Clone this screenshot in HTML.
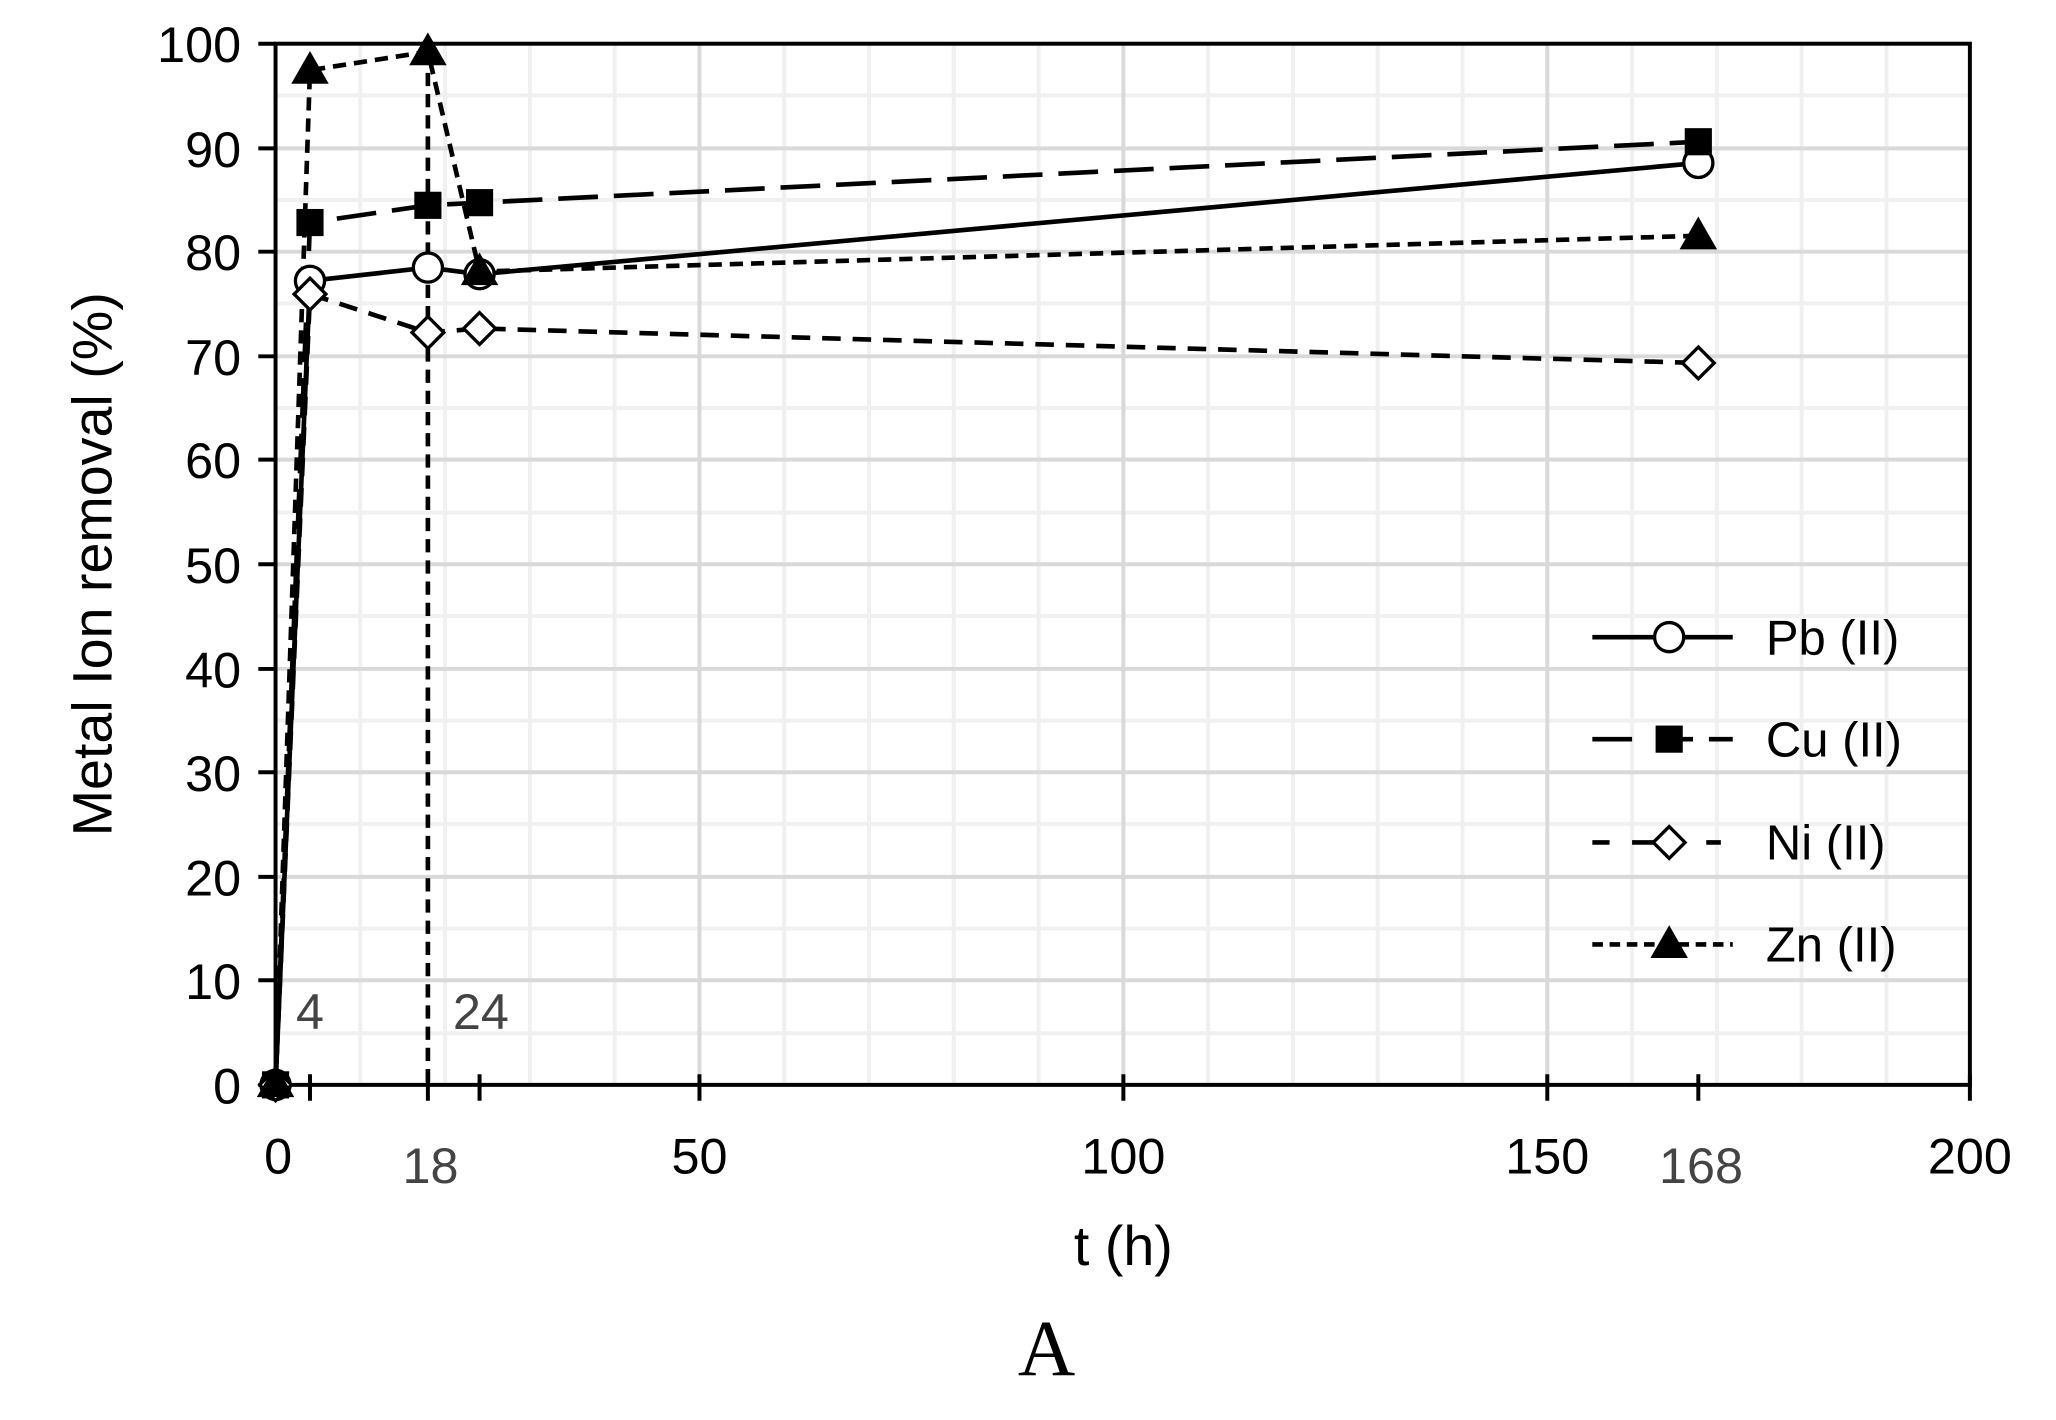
<!DOCTYPE html>
<html><head><meta charset="utf-8"><style>html,body{margin:0;padding:0;background:#fff}svg{display:block}</style></head><body>
<svg width="2056" height="1420" viewBox="0 0 1552 1072" preserveAspectRatio="none" xmlns="http://www.w3.org/2000/svg" font-family="Liberation Sans, sans-serif">
<rect width="1552" height="1072" fill="#fff"/>
<g stroke-width="3">
<g stroke="#f0f0f0">
<line x1="272" y1="33" x2="272" y2="819"/><line x1="336" y1="33" x2="336" y2="819"/><line x1="400" y1="33" x2="400" y2="819"/><line x1="464" y1="33" x2="464" y2="819"/>
<line x1="592" y1="33" x2="592" y2="819"/><line x1="656" y1="33" x2="656" y2="819"/><line x1="720" y1="33" x2="720" y2="819"/><line x1="784" y1="33" x2="784" y2="819"/>
<line x1="912" y1="33" x2="912" y2="819"/><line x1="976" y1="33" x2="976" y2="819"/><line x1="1040" y1="33" x2="1040" y2="819"/><line x1="1104" y1="33" x2="1104" y2="819"/>
<line x1="1232" y1="33" x2="1232" y2="819"/><line x1="1296" y1="33" x2="1296" y2="819"/><line x1="1360" y1="33" x2="1360" y2="819"/><line x1="1424" y1="33" x2="1424" y2="819"/>
<line x1="208" y1="72" x2="1487" y2="72"/><line x1="208" y1="151" x2="1487" y2="151"/><line x1="208" y1="229" x2="1487" y2="229"/><line x1="208" y1="308" x2="1487" y2="308"/>
<line x1="208" y1="387" x2="1487" y2="387"/><line x1="208" y1="465" x2="1487" y2="465"/><line x1="208" y1="544" x2="1487" y2="544"/><line x1="208" y1="622" x2="1487" y2="622"/>
<line x1="208" y1="701" x2="1487" y2="701"/><line x1="208" y1="780" x2="1487" y2="780"/>
</g>
<g stroke="#d9d9d9">
<line x1="528" y1="33" x2="528" y2="819"/><line x1="848" y1="33" x2="848" y2="819"/><line x1="1168" y1="33" x2="1168" y2="819"/>
<line x1="208" y1="112" x2="1487" y2="112"/><line x1="208" y1="190" x2="1487" y2="190"/><line x1="208" y1="269" x2="1487" y2="269"/><line x1="208" y1="347" x2="1487" y2="347"/>
<line x1="208" y1="426" x2="1487" y2="426"/><line x1="208" y1="505" x2="1487" y2="505"/><line x1="208" y1="583" x2="1487" y2="583"/><line x1="208" y1="662" x2="1487" y2="662"/><line x1="208" y1="740" x2="1487" y2="740"/>
</g>
</g>
<g stroke="#000" stroke-width="3" fill="none">
<rect x="208" y="33" width="1279" height="786"/>
<path d="M195 33H208M195 112H208M195 190H208M195 269H208M195 347H208M195 426H208M195 505H208M195 583H208M195 662H208M195 740H208M195 819H208"/>
<path d="M208 811V831M528 811V831M848 811V831M1168 811V831M1487 811V831M234 811V831M323 811V831M362 811V831M1282 811V831"/>
</g>
<g font-size="38" text-anchor="end" fill="#000">
<text x="182" y="47">100</text><text x="182" y="126">90</text><text x="182" y="204">80</text><text x="182" y="283">70</text><text x="182" y="361">60</text>
<text x="182" y="440">50</text><text x="182" y="519">40</text><text x="182" y="597">30</text><text x="182" y="676">20</text><text x="182" y="754">10</text><text x="182" y="833">0</text>
</g>
<g font-size="38" text-anchor="middle" fill="#000">
<text x="210" y="886">0</text><text x="528" y="886">50</text><text x="848" y="886">100</text><text x="1168" y="886">150</text><text x="1487" y="886">200</text>
</g>
<g font-size="38" text-anchor="middle" fill="#444">
<text x="325" y="893">18</text><text x="1284" y="893">168</text><text x="234" y="777">4</text><text x="363" y="777">24</text>
</g>
<text x="848" y="955" font-size="42" text-anchor="middle">t (h)</text>
<text transform="translate(84,426) rotate(-90)" font-size="42" text-anchor="middle">Metal Ion removal (%)</text>
<text x="790" y="1038" font-size="60" text-anchor="middle" font-family="Liberation Serif, serif">A</text>
<g fill="none" stroke="#000" stroke-width="3.5">
<polyline points="208,819 234,212 323,202 362,207 1282,123"/>
<polyline stroke-dasharray="30,12" points="208,819 234,168 323,155 362,153 1282,107"/>
<polyline stroke-dasharray="14,9" points="208,819 234,222 323,251 362,248 1282,274"/>
<polyline stroke-dasharray="10,6" points="208,819 234,53 323,39 362,205 1282,178"/>
<line stroke-dasharray="10,6" x1="323" y1="39" x2="323" y2="819"/>
</g>
<g stroke="#000" stroke-width="2.5">
<g fill="#fff"><circle cx="208" cy="819" r="11"/><circle cx="234" cy="212" r="11"/><circle cx="323" cy="202" r="11"/><circle cx="362" cy="207" r="11"/><circle cx="1282" cy="123" r="11"/></g>
<g fill="#000"><rect x="199" y="810" width="18" height="18"/><rect x="225" y="159" width="18" height="18"/><rect x="314" y="146" width="18" height="18"/><rect x="353" y="144" width="18" height="18"/><rect x="1273" y="98" width="18" height="18"/></g>
<g fill="#fff"><path d="M208 807l12 12-12 12-12-12z"/><path d="M234 210l12 12-12 12-12-12z"/><path d="M323 239l12 12-12 12-12-12z"/><path d="M362 236l12 12-12 12-12-12z"/><path d="M1282 262l12 12-12 12-12-12z"/></g>
<g fill="#000"><path d="M208 806l12 21h-24z"/><path d="M234 41l12 21h-24z"/><path d="M323 27l12 21h-24z"/><path d="M362 193l12 21h-24z"/><path d="M1282 166l12 21h-24z"/></g>
</g>
<g stroke="#000" stroke-width="3.5" fill="none">
<line x1="1202" y1="481" x2="1308" y2="481"/>
<path d="M1202 558H1232M1265 558H1278M1290 558H1308"/>
<path d="M1202 636H1215M1232 636H1270M1288 636H1299"/>
<path d="M1202 713H1308" stroke-dasharray="8,5"/>
</g>
<g stroke="#000" stroke-width="2.5">
<circle cx="1260" cy="481" r="11" fill="#fff"/>
<rect x="1251" y="549" width="18" height="18" fill="#000"/>
<path d="M1260 624l12 12-12 12-12-12z" fill="#fff"/>
<path d="M1260 701l12 21h-24z" fill="#000"/>
</g>
<g font-size="37" fill="#000">
<text x="1333" y="494">Pb (II)</text><text x="1333" y="571">Cu (II)</text><text x="1333" y="649">Ni (II)</text><text x="1333" y="726">Zn (II)</text>
</g>
</svg>
</body></html>
